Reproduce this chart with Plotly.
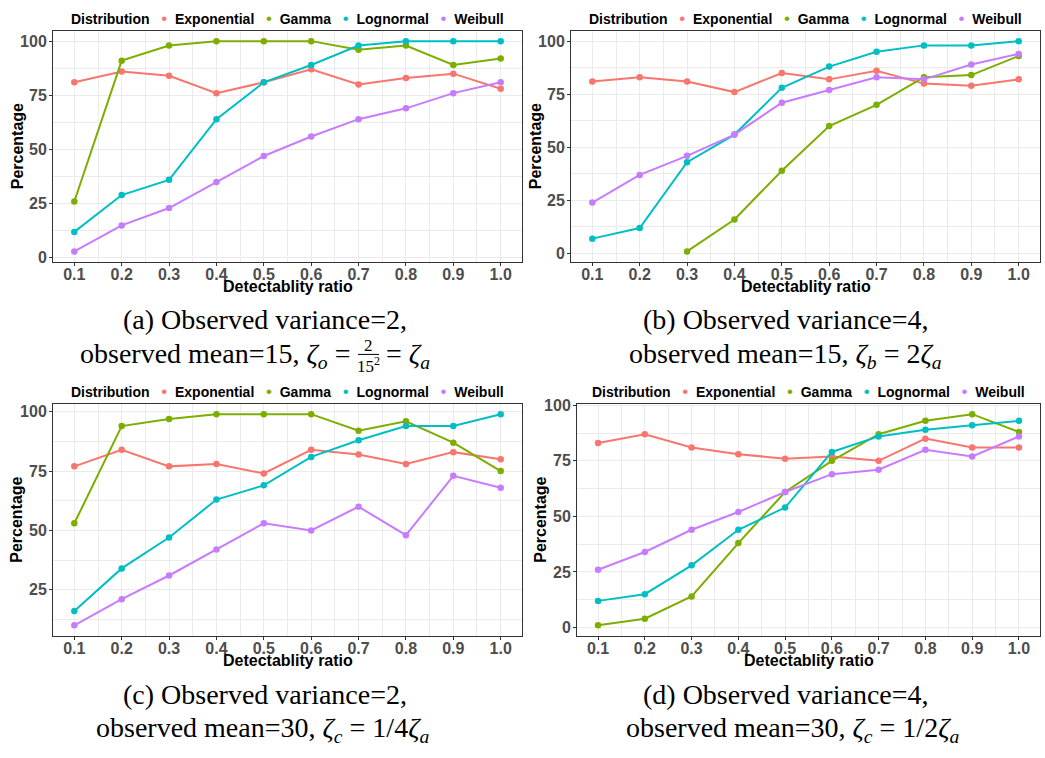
import plotly.graph_objects as go

W, H = 1045, 758

x_vals = [0.1, 0.2, 0.3, 0.4, 0.5, 0.6, 0.7, 0.8, 0.9, 1.0]
x_ticks = [0.1, 0.2, 0.3, 0.4, 0.5, 0.6, 0.7, 0.8, 0.9, 1.0]
y_ticks = [0, 25, 50, 75, 100]
distributions = ["Exponential", "Gamma", "Lognormal", "Weibull"]
colors = ["#F8766D", "#7CAE00", "#00BFC4", "#C77CFF"]

# panel (a)
a_exponential = [81, 86, 84, 76, 81, 87, 80, 83, 85, 78]
a_gamma = [26, 91, 98, 100, 100, 100, 96, 98, 89, 92]
a_lognormal = [12, 29, 36, 64, 81, 89, 98, 100, 100, 100]
a_weibull = [3, 15, 23, 35, 47, 56, 64, 69, 76, 81]
# panel (b)
b_exponential = [81, 83, 81, 76, 85, 82, 86, 80, 79, 82]
b_gamma = [None, None, 1, 16, 39, 60, 70, 83, 84, 93]
b_lognormal = [7, 12, 43, 56, 78, 88, 95, 98, 98, 100]
b_weibull = [24, 37, 46, 56, 71, 77, 83, 82, 89, 94]
# panel (c)
c_exponential = [77, 84, 77, 78, 74, 84, 82, 78, 83, 80]
c_gamma = [53, 94, 97, 99, 99, 99, 92, 96, 87, 75]
c_lognormal = [16, 34, 47, 63, 69, 81, 88, 94, 94, 99]
c_weibull = [10, 21, 31, 42, 53, 50, 60, 48, 73, 68]
# panel (d)
d_exponential = [83, 87, 81, 78, 76, 77, 75, 85, 81, 81]
d_gamma = [1, 4, 14, 38, 61, 75, 87, 93, 96, 88]
d_lognormal = [12, 15, 28, 44, 54, 79, 86, 89, 91, 93]
d_weibull = [26, 34, 44, 52, 61, 69, 71, 80, 77, 86]

panels = [
    [a_exponential, a_gamma, a_lognormal, a_weibull],
    [b_exponential, b_gamma, b_lognormal, b_weibull],
    [c_exponential, c_gamma, c_lognormal, c_weibull],
    [d_exponential, d_gamma, d_lognormal, d_weibull],
]

# pixel boxes of the panels: (left, right, top, bottom)
boxes = [(53, 522, 24, 259), (571, 1040, 24, 259), (53, 522, 403, 639), (577, 1040, 403, 639)]
y_ranges = [[-1.85, 104.85], [-3.95, 104.95], [5.55, 103.45], [-3.75, 100.75]]
x_range = [0.055, 1.045]


def px(x):
    return x / W


def py(y):
    return 1 - y / H


fig = go.Figure()
SANS = "Liberation Sans, Arial, sans-serif"
SERIF = "Liberation Serif, Times New Roman, serif"

for i, series in enumerate(panels):
    k = "" if i == 0 else str(i + 1)
    for name, vals, col in zip(distributions, series, colors):
        fig.add_trace(go.Scatter(
            x=x_vals, y=vals, mode="lines+markers", name=name,
            line=dict(color=col, width=2), marker=dict(color=col, size=6.5),
            showlegend=False, xaxis="x" + k, yaxis="y" + k, connectgaps=False,
        ))
    l, r, t, b = boxes[i]
    common = dict(
        showline=True, linecolor="#333333", linewidth=1, mirror=True,
        showgrid=True, gridcolor="#EBEBEB", gridwidth=1.1,
        ticks="outside", ticklen=3, tickcolor="#333333", tickwidth=1,
        tickfont=dict(family=SANS, size=16, color="#4D4D4D", weight="bold"),
        zeroline=False,
    )
    fig.update_layout(**{
        "xaxis" + k: dict(domain=[px(l), px(r)], range=x_range, anchor="y" + k,
                          tickvals=x_ticks, tickformat=".1f", ticklabelstandoff=-5,
                          minor=dict(dtick=0.05, tick0=0.05, showgrid=True, gridcolor="#EBEBEB", gridwidth=0.6, ticks=""),
                          **common),
        "yaxis" + k: dict(domain=[py(b), py(t)], range=y_ranges[i], anchor="x" + k,
                          tickvals=y_ticks, ticklabelstandoff=-1,
                          minor=dict(dtick=12.5, tick0=0, showgrid=True, gridcolor="#EBEBEB", gridwidth=0.6, ticks=""),
                          **common),
    })
    cx = (l + r) / 2
    cy = (t + b) / 2
    # axis titles
    fig.add_annotation(x=px(cx), y=py(b + 25), xref="paper", yref="paper",
                       text="<b>Detectablity ratio</b>", showarrow=False,
                       font=dict(family=SANS, size=16, color="black"), xanchor="center", yanchor="middle")
    fig.add_annotation(x=px(l - 36), y=py(cy), xref="paper", yref="paper",
                       text="<b>Percentage</b>", showarrow=False, textangle=-90,
                       font=dict(family=SANS, size=16, color="black"), xanchor="center", yanchor="middle")
    # legend
    parts = ["<b>Distribution</b>"]
    for name, col in zip(distributions, colors):
        parts.append("   <span style='color:%s;font-size:17px'>•</span>  <b>%s</b>" % (col, name))
    fig.add_annotation(x=px(cx), y=py(t - 12), xref="paper", yref="paper",
                       text="".join(parts), showarrow=False,
                       font=dict(family=SANS, size=14, color="black"), xanchor="center", yanchor="middle")


def cap(x, y, text, anchor="center", size=28):
    fig.add_annotation(x=px(x), y=py(y), xref="paper", yref="paper", text=text,
                       showarrow=False, font=dict(family=SERIF, size=size, color="black"),
                       xanchor=anchor, yanchor="middle")


# captions
cap(265, 318, "(a) Observed variance=2,")
cap(352, 354, "observed mean=15, <i>ζ<sub>o</sub></i> =", anchor="right")
cap(368, 344, "2", size=17)
cap(368, 364, "15<sup>2</sup>", size=17)
fig.add_shape(type="line", xref="paper", yref="paper", x0=px(358), x1=px(379), y0=py(353), y1=py(353),
              line=dict(color="black", width=1))
cap(384, 354, "= <i>ζ<sub>a</sub></i>", anchor="left")

cap(786, 318, "(b) Observed variance=4,")
cap(785, 354, "observed mean=15, <i>ζ<sub>b</sub></i> = 2<i>ζ<sub>a</sub></i>")

cap(265, 699, "(c) Observed variance=2,")
cap(262, 734, "observed mean=30, <i>ζ<sub>c</sub></i> = 1/4<i>ζ<sub>a</sub></i>")

cap(786, 699, "(d) Observed variance=4,")
cap(792, 734, "observed mean=30, <i>ζ<sub>c</sub></i> = 1/2<i>ζ<sub>a</sub></i>")

fig.update_layout(
    width=W, height=H, autosize=False,
    margin=dict(l=0, r=0, t=0, b=0),
    paper_bgcolor="white", plot_bgcolor="white",
    showlegend=False,
)

fig.write_html("out.html")
